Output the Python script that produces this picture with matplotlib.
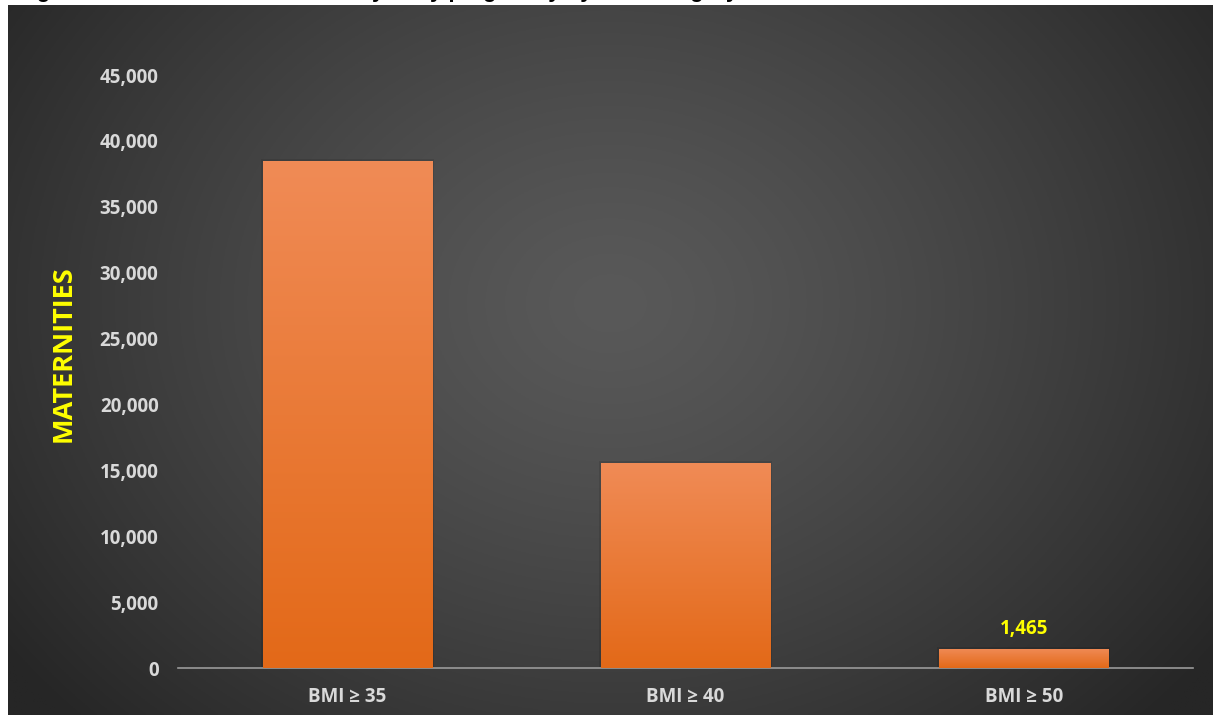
import matplotlib.pyplot as plt
import numpy as np
from matplotlib.ticker import FuncFormatter

categories = ["BMI ≥ 35", "BMI ≥ 40", "BMI ≥ 50"]
maternities = [38470, 15560, 1465]
labelled = [False, False, True]
title = "Figure 1: Number of maternities by early pregnancy by BMI category"

FONT = ["Open Sans", "DejaVu Sans"]

W, H = 1213, 715
fig = plt.figure(figsize=(W / 100, H / 100), dpi=100)
fig.patch.set_facecolor("white")

# dark panel with a soft radial gradient
bg = fig.add_axes([8 / W, 0, 1 - 8 / W, 710 / H], zorder=-1)
yy, xx = np.mgrid[0:1:300j, 0:1:500j]
d = np.sqrt(((xx - 0.5) / 0.62) ** 2 + ((yy - 0.58) / 0.85) ** 2)
v = (89 - 51 * np.clip(d, 0, 1) ** 1.3) / 255
bg.imshow(np.dstack([v, v, v]), extent=[0, 1, 0, 1], aspect="auto", origin="lower")
bg.axis("off")

ax = fig.add_axes([178 / W, 47 / H, 1015 / W, 593 / H])
ax.set_facecolor("none")

bars = ax.bar(range(len(categories)), maternities, width=0.5, color="none", zorder=3)

# orange vertical gradient inside each bar, plus a faint shadow
grad = np.linspace(0, 1, 256).reshape(-1, 1)
top = np.array([0xf0, 0x8b, 0x56]) / 255
bot = np.array([0xe3, 0x69, 0x18]) / 255
cols = bot + (top - bot) * grad[..., None]
for b in bars:
    x0, w, h = b.get_x(), b.get_width(), b.get_height()
    ax.bar(x0 + w / 2, h + 150, width=w + 0.012, color="black", alpha=0.1, zorder=2)
    im = ax.imshow(cols, extent=[x0, x0 + w, 0, h], aspect="auto", origin="lower", zorder=3)
    im.set_clip_path(b)

for i, (val, lab) in enumerate(zip(maternities, labelled)):
    if lab:
        ax.text(i, val + 750, f"{val:,}", ha="center", va="bottom", color="#ffff00",
                fontsize=13.5, fontweight="bold", family=FONT)

ax.set_xlim(-0.5, len(categories) - 0.5)
ax.set_ylim(0, 45000)
ax.set_yticks(np.arange(0, 45001, 5000))
ax.yaxis.set_major_formatter(FuncFormatter(lambda x, p: f"{int(x):,}"))
ax.set_xticks(range(len(categories)))
ax.set_xticklabels(categories)

for s in ["top", "right", "left"]:
    ax.spines[s].set_visible(False)
ax.spines["bottom"].set_color("#9a9a9a")
ax.spines["bottom"].set_linewidth(1.2)
ax.tick_params(length=0)
ax.tick_params(axis="y", pad=14, labelcolor="#d9d9d9", labelsize=13.5)
ax.tick_params(axis="x", pad=14, labelcolor="#d9d9d9", labelsize=13.5)
for t in ax.get_xticklabels() + ax.get_yticklabels():
    t.set_fontweight("bold")
    t.set_family(FONT)

ax.set_ylabel("MATERNITIES", color="#ffff00", fontsize=19.5, fontweight="bold", family=FONT)
ax.yaxis.set_label_coords(-0.100, 0.53)

# title sits mostly above the cropped figure, only its bottom shows
fig.text(17 / W, 1 + 3 / H, title, ha="left", va="baseline", fontsize=16,
         fontweight="bold", family="Liberation Sans", color="black")

fig.savefig("out.png", dpi=100)
